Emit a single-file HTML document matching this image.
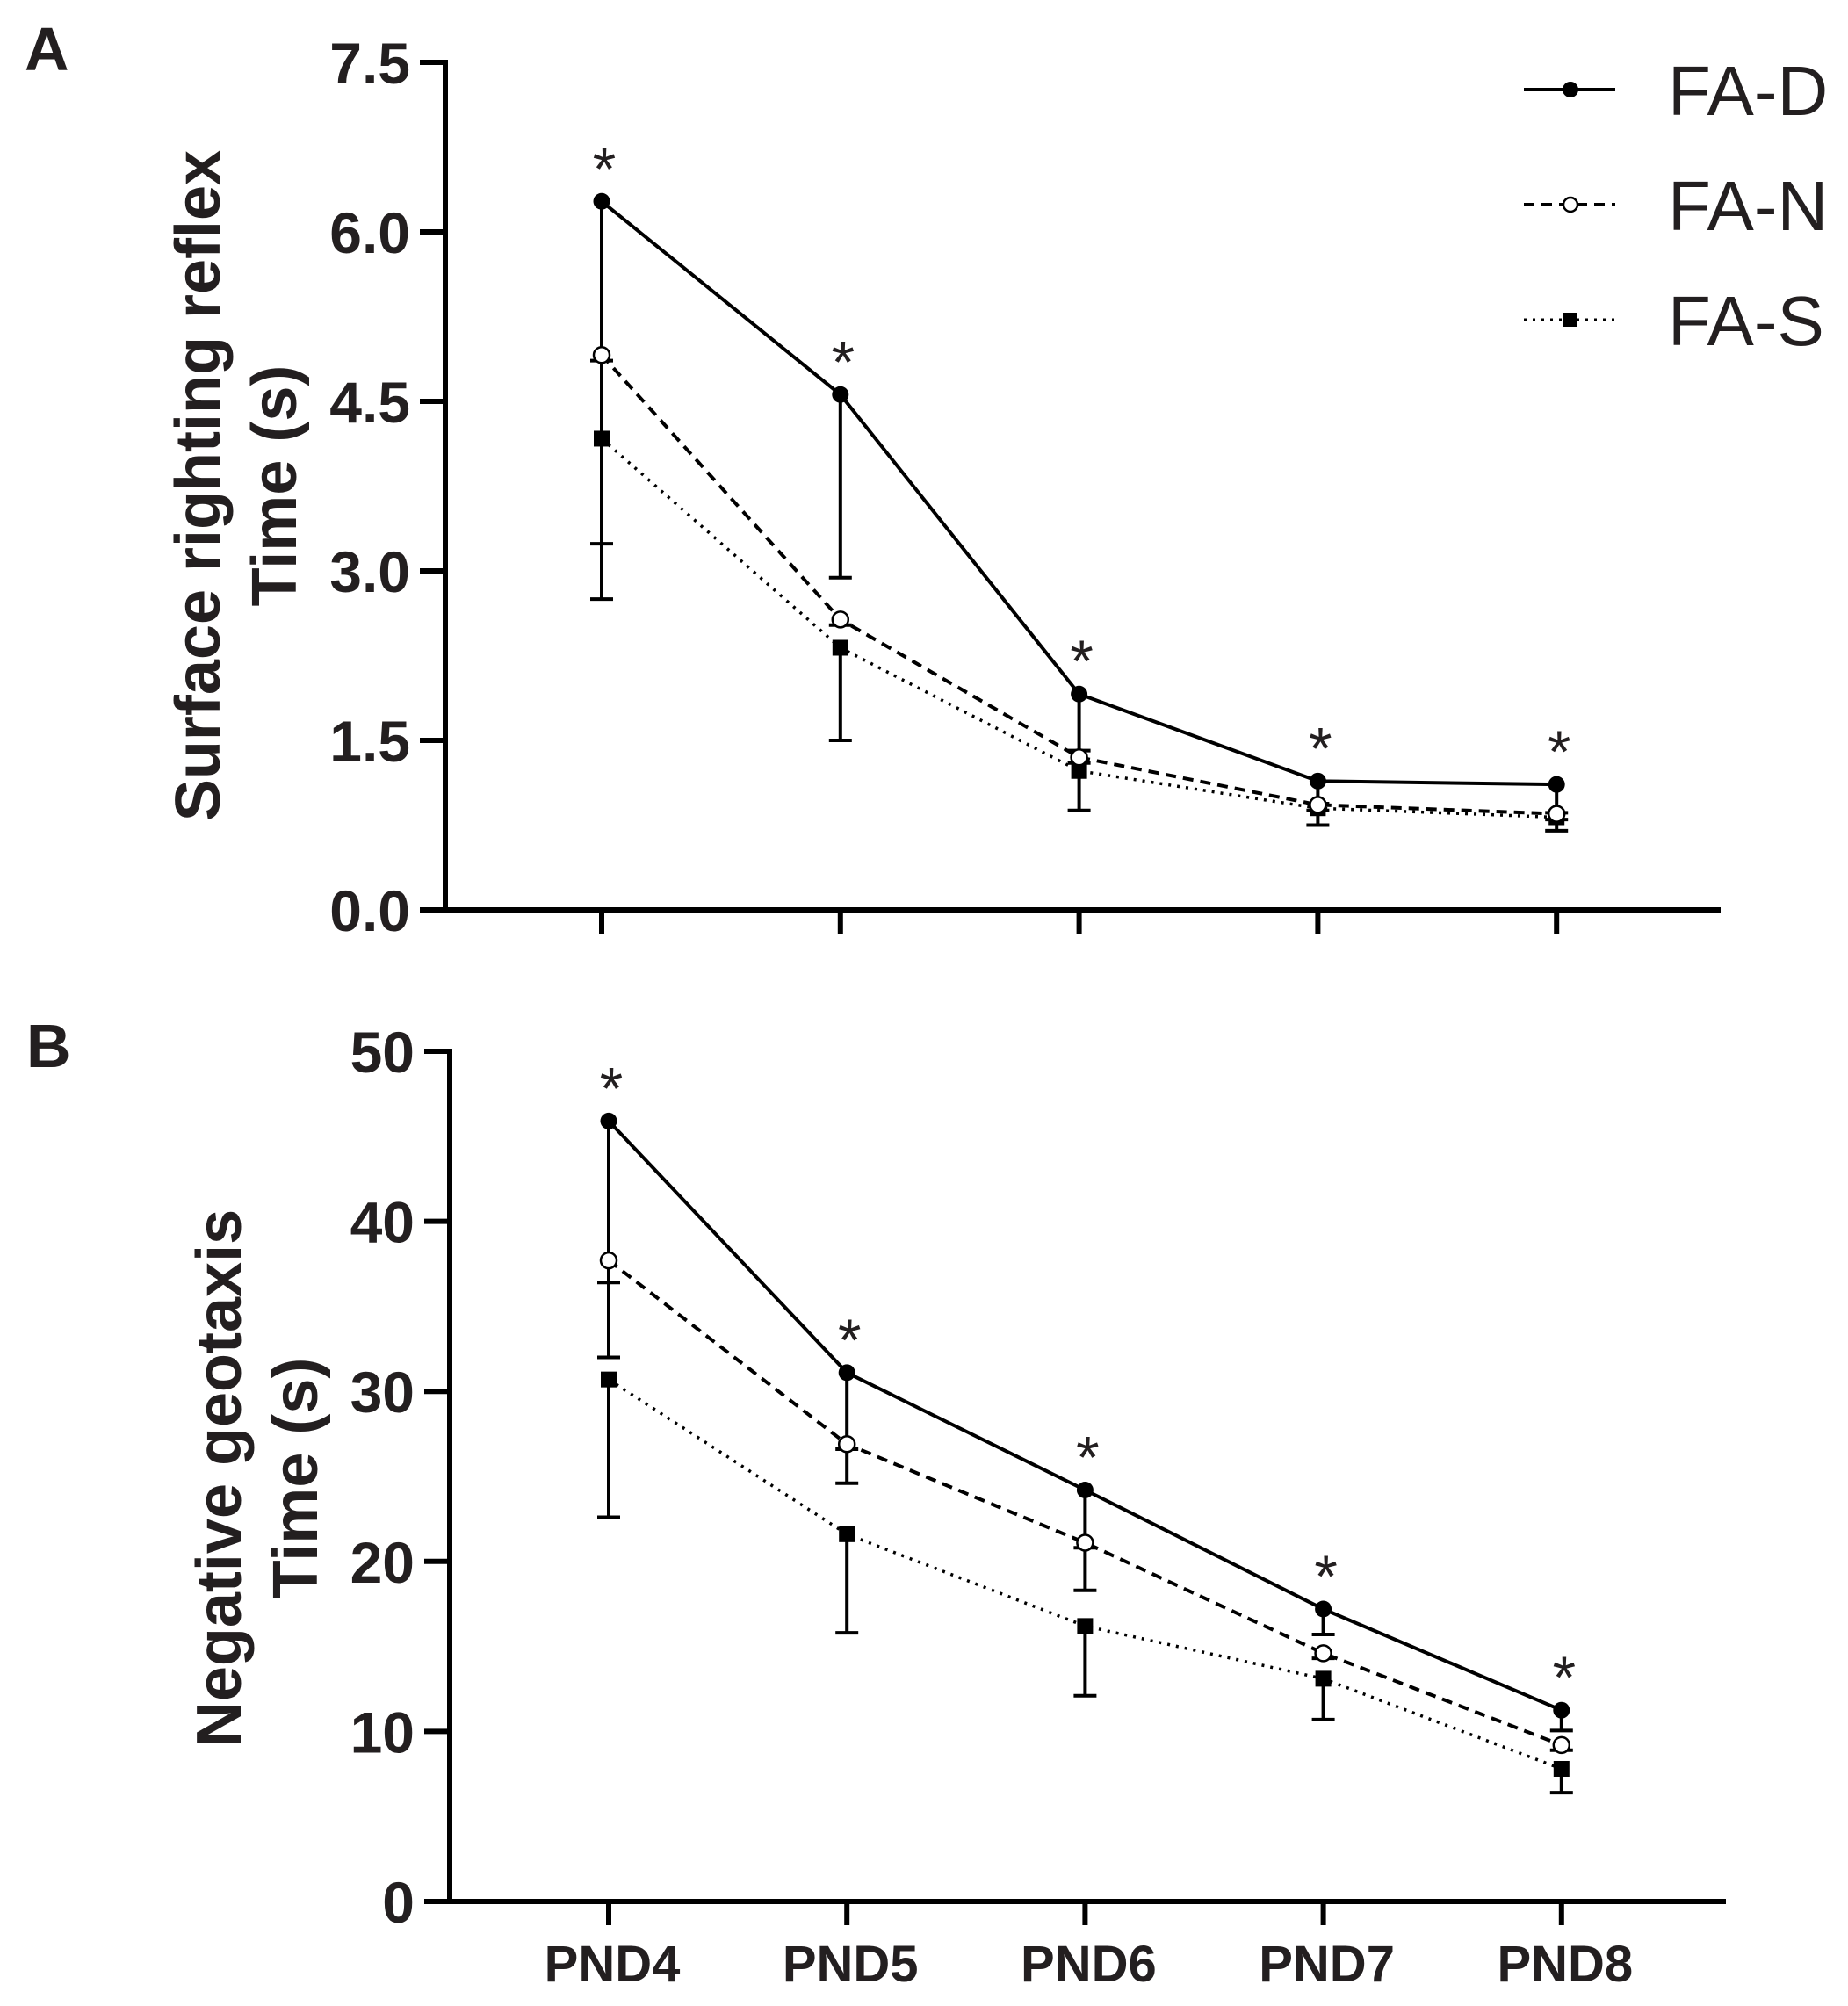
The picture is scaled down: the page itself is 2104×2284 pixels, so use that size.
<!DOCTYPE html>
<html><head><meta charset="utf-8">
<style>
html,body{margin:0;padding:0;background:#fff;}
svg{display:block;}
text{font-family:"Liberation Sans",Arial,sans-serif;fill:#231f20;}
</style></head>
<body>
<svg id="fig" width="2104" height="2284" viewBox="0 0 2104 2284" xmlns="http://www.w3.org/2000/svg">
<rect width="2104" height="2284" fill="#fff"/>
<text x="28" y="80" font-size="70" font-weight="bold">A</text>
<text x="30" y="1215" font-size="70" font-weight="bold">B</text>
<g>
  <g>
    <line x1="1735" y1="102" x2="1839" y2="102" stroke="#000" stroke-width="4"/>
    <circle cx="1788" cy="102" r="9" fill="#000"/>
    <text x="1899" y="131" font-size="80">FA-D</text>
  </g>
  <g>
    <line x1="1735" y1="233" x2="1839" y2="233" stroke="#000" stroke-width="4" stroke-dasharray="12,8"/>
    <circle cx="1788" cy="233" r="8" fill="#fff" stroke="#000" stroke-width="2.5"/>
    <text x="1899" y="262" font-size="80">FA-N</text>
  </g>
  <g>
    <line x1="1735" y1="364" x2="1839" y2="364" stroke="#000" stroke-width="3" stroke-dasharray="3,7"/>
    <rect x="1780" y="356" width="16" height="16" fill="#000"/>
    <text x="1899" y="393" font-size="80">FA-S</text>
  </g>
</g>
<g id="panelA"></g>
<g id="panelB"></g>
</svg>
<script>
const categories = ["PND4","PND5","PND6","PND7","PND8"];
const seriesNames = ["FA-D","FA-N","FA-S"];
// Panel A: Surface righting reflex
const aTicks = ["0.0","1.5","3.0","4.5","6.0","7.5"];
const aTickVals = [0,1.5,3,4.5,6,7.5];
const aFAD = [6.27,4.56,1.91,1.14,1.11];
const aFAN = [4.91,2.57,1.35,0.93,0.85];
const aFAS = [4.17,2.32,1.23,0.90,0.82];
const aErrFAD = [3.03,1.62,0.50,0.20,0.25];
const aErrFAN = [0.05,0.05,0.05,0.05,0.05];
const aErrFAS = [1.42,0.82,0.35,0.15,0.12];
const aStars = [1,1,1,1,1];
// Panel B: Negative geotaxis
const bTicks = ["0","10","20","30","40","50"];
const bTickVals = [0,10,20,30,40,50];
const bFAD = [45.9,31.1,24.2,17.2,11.25];
const bFAN = [37.7,26.9,21.1,14.6,9.2];
const bFAS = [30.7,21.6,16.2,13.1,7.8];
const bErrFAD = [9.5,6.5,5.9,1.5,1.2];
const bErrFAN = [5.7,0.3,0.3,0.3,0.3];
const bErrFAS = [8.1,5.8,4.1,2.4,1.4];
const bStars = [1,1,1,1,1];

const NS="http://www.w3.org/2000/svg";
function mk(tag, attrs, parent){const e=document.createElementNS(NS,tag);for(const k in attrs)e.setAttribute(k,attrs[k]);parent.appendChild(e);return e;}

function draw(g, cfg){
  const yS = v => cfg.y0 - (v - cfg.vmin)/(cfg.vmax-cfg.vmin)*(cfg.y0-cfg.y1);
  const xS = i => cfg.x0 + i*cfg.dx;
  const ya = mk('line',{x1:cfg.ax,y1:cfg.y1-3,x2:cfg.ax,y2:cfg.y0+3,stroke:'#000','stroke-width':6},g);
  
  
  const xa = mk('line',{x1:cfg.ax-3,y1:cfg.y0,x2:cfg.xend,y2:cfg.y0,stroke:'#000','stroke-width':6},g);
  
  
  cfg.tickVals.forEach((v,i)=>{
    const y=yS(v);
    const t=mk('line',{x1:cfg.ax-29,y1:y,x2:cfg.ax,y2:y,stroke:'#000','stroke-width':6},g);
    
    
    const l=mk('text',{x:cfg.ax-40,y:y+24,'font-size':66,'font-weight':'bold','text-anchor':'end'},g);
    l.textContent=cfg.ticks[i];
    
    
  });
  categories.forEach((c,i)=>{
    const x=xS(i);
    const t=mk('line',{x1:x,y1:cfg.y0,x2:x,y2:cfg.y0+27,stroke:'#000','stroke-width':6},g);
    
    
    if(cfg.showCats){
      const l=mk('text',{x:x+4,y:cfg.y0+91,'font-size':58,'font-weight':'bold','text-anchor':'middle'},g);
      l.textContent=c;
      
      
    }
  });
  cfg.titles.forEach((tt,k)=>{
    const x=cfg.titleX[k], y=cfg.titleY;
    const t=mk('text',{x:x,y:y,'font-size':cfg.titleSize,'font-weight':'bold','text-anchor':'middle',transform:`rotate(-90 ${x} ${y})`},g);
    t.textContent=tt;
    
    
  });
  const styles=[{dash:'',w:4},{dash:'12,8',w:4},{dash:'3,7',w:3.5}];
  const sers=[cfg.d,cfg.n,cfg.s], errs=[cfg.ed,cfg.en,cfg.es];
  sers.forEach((arr,si)=>{
    arr.forEach((v,i)=>{
      const x=xS(i), y=yS(v), ye=yS(v-errs[si][i]);
      const e=mk('path',{d:`M${x},${y}V${ye}M${x-13},${ye}H${x+13}`,stroke:'#000','stroke-width':4,fill:'none'},g);
      
      
    });
  });
  [2,1,0].forEach(si=>{
    const arr=sers[si];
    const d=arr.map((v,i)=>(i?'L':'M')+xS(i)+','+yS(v)).join('');
    const p=mk('path',{d:d,stroke:'#000','stroke-width':styles[si].w,fill:'none'},g);
    if(styles[si].dash)p.setAttribute('stroke-dasharray',styles[si].dash);
    
    
  });
  [2,1,0].forEach(si=>{
    sers[si].forEach((v,i)=>{
      const x=xS(i), y=yS(v);
      let m;
      if(si===0) m=mk('circle',{cx:x,cy:y,r:9.5,fill:'#000'},g);
      else if(si===1) m=mk('circle',{cx:x,cy:y,r:9,fill:'#fff',stroke:'#000','stroke-width':2.5},g);
      else m=mk('rect',{x:x-9,y:y-9,width:18,height:18,fill:'#000'},g);
      
      
    });
  });
  cfg.stars.forEach((s,i)=>{
    if(!s)return;
    const st=mk('text',{x:xS(i)+3,y:yS(cfg.d[i])-14,'font-size':68,'text-anchor':'middle'},g);
    st.textContent='*';
    
    
  });
}

draw(document.getElementById('panelA'),{
  ax:507,y0:1036,y1:71,vmin:0,vmax:7.5,x0:685,dx:271.8,xend:1959,
  ticks:aTicks,tickVals:aTickVals,showCats:false,titleSize:72,
  titles:["Surface righting reflex","Time (s)"],titleX:[250,337],titleY:553,
  d:aFAD,n:aFAN,s:aFAS,ed:aErrFAD,en:aErrFAN,es:aErrFAS,stars:aStars
});
draw(document.getElementById('panelB'),{
  ax:512,y0:2165,y1:1197,vmin:0,vmax:50,x0:693,dx:271.2,xend:1965,
  ticks:bTicks,tickVals:bTickVals,showCats:true,titleSize:72,
  titles:["Negative geotaxis","Time (s)"],titleX:[274,361],titleY:1683,
  d:bFAD,n:bFAN,s:bFAS,ed:bErrFAD,en:bErrFAN,es:bErrFAS,stars:bStars
});
</script>
</body></html>
